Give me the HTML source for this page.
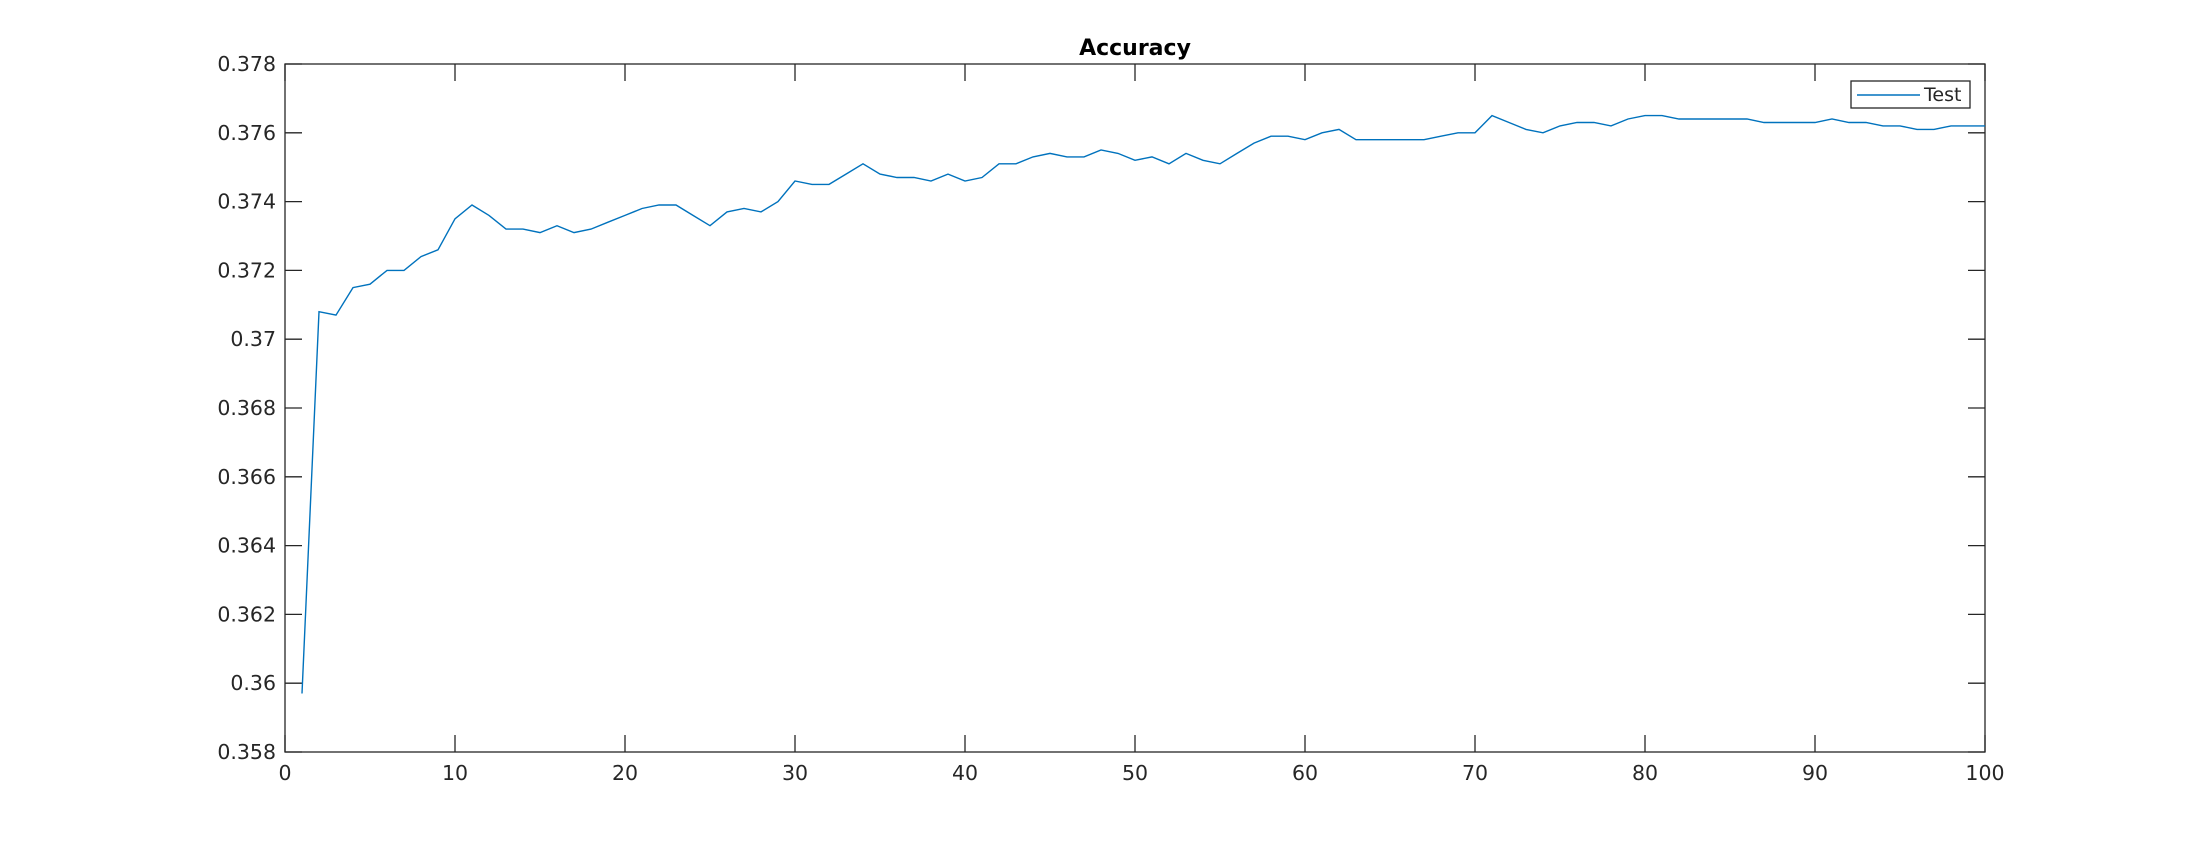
<!DOCTYPE html>
<html><head><meta charset="utf-8"><style>
html,body{margin:0;padding:0;background:#fff;}
svg{display:block;font-family:"DejaVu Sans","Liberation Sans",sans-serif;}
</style></head><body>
<svg id="chart" width="2195" height="847">
<rect width="2195" height="847" fill="#fff"/>
<text x="1135" y="55" text-anchor="middle" font-size="22" font-weight="bold">Accuracy</text>
<g id="axes"></g>
<path id="line" fill="none" stroke="#0072BD" stroke-width="1.4"/>
<g>
<rect x="1851" y="81" width="119" height="27" fill="#fff" stroke="#262626" stroke-width="1.3"/>
<line x1="1857" y1="95" x2="1920" y2="95" stroke="#0072BD" stroke-width="1.4"/>
<text x="1924" y="101" font-size="19" fill="#262626">Test</text>
</g>
</svg>
<script>
const yValues=[0.3597,0.3708,0.3707,0.3715,0.3716,0.3720,0.3720,0.3724,0.3726,0.3735,
0.3739,0.3736,0.3732,0.3732,0.3731,0.3733,0.3731,0.3732,0.3734,0.3736,
0.3738,0.3739,0.3739,0.3736,0.3733,0.3737,0.3738,0.3737,0.3740,0.3746,
0.3745,0.3745,0.3748,0.3751,0.3748,0.3747,0.3747,0.3746,0.3748,0.3746,
0.3747,0.3751,0.3751,0.3753,0.3754,0.3753,0.3753,0.3755,0.3754,0.3752,
0.3753,0.3751,0.3754,0.3752,0.3751,0.3754,0.3757,0.3759,0.3759,0.3758,
0.3760,0.3761,0.3758,0.3758,0.3758,0.3758,0.3758,0.3759,0.3760,0.3760,
0.3765,0.3763,0.3761,0.3760,0.3762,0.3763,0.3763,0.3762,0.3764,0.3765,
0.3765,0.3764,0.3764,0.3764,0.3764,0.3764,0.3763,0.3763,0.3763,0.3763,
0.3764,0.3763,0.3763,0.3762,0.3762,0.3761,0.3761,0.3762,0.3762,0.3762];
const xTicks=[0,10,20,30,40,50,60,70,80,90,100];
const yTicks=[0.358,0.360,0.362,0.364,0.366,0.368,0.370,0.372,0.374,0.376,0.378];
const yTickLabels=["0.358","0.36","0.362","0.364","0.366","0.368","0.37","0.372","0.374","0.376","0.378"];
const L=285,R=1985,T=64,B=752;
const sx=v=>L+(v-0)/(100-0)*(R-L);
const sy=v=>B-(v-0.358)/(0.378-0.358)*(B-T);
const NS="http://www.w3.org/2000/svg";
const ax=document.getElementById('axes');
function mk(tag,attrs){const e=document.createElementNS(NS,tag);for(const k in attrs)e.setAttribute(k,attrs[k]);ax.appendChild(e);return e;}
const box=mk('rect',{x:L,y:T,width:R-L,height:B-T,fill:'none',stroke:'#262626','stroke-width':1.3});


const tl=17;
xTicks.forEach(t=>{const x=sx(t);
 const a=mk('line',{x1:x,y1:B,x2:x,y2:B-tl,stroke:'#262626','stroke-width':1.3});
 
 
 const b=mk('line',{x1:x,y1:T,x2:x,y2:T+tl,stroke:'#262626','stroke-width':1.3});
 
 
 const tx=mk('text',{x:x,y:B+28,'text-anchor':'middle','font-size':20.5,fill:'#262626'});
 tx.textContent=t;
 
 
});
yTicks.forEach((t,i)=>{const y=sy(t);
 const a=mk('line',{x1:L,y1:y,x2:L+tl,y2:y,stroke:'#262626','stroke-width':1.3});
 
 
 const b=mk('line',{x1:R,y1:y,x2:R-tl,y2:y,stroke:'#262626','stroke-width':1.3});
 
 
 const tx=mk('text',{x:L-9,y:y+7,'text-anchor':'end','font-size':20.5,fill:'#262626'});
 tx.textContent=yTickLabels[i];
 
 
});
document.getElementById('line').setAttribute('d',yValues.map((v,i)=>(i?'L':'M')+sx(i+1).toFixed(1)+','+sy(v).toFixed(1)).join(''));
</script>
</body></html>
